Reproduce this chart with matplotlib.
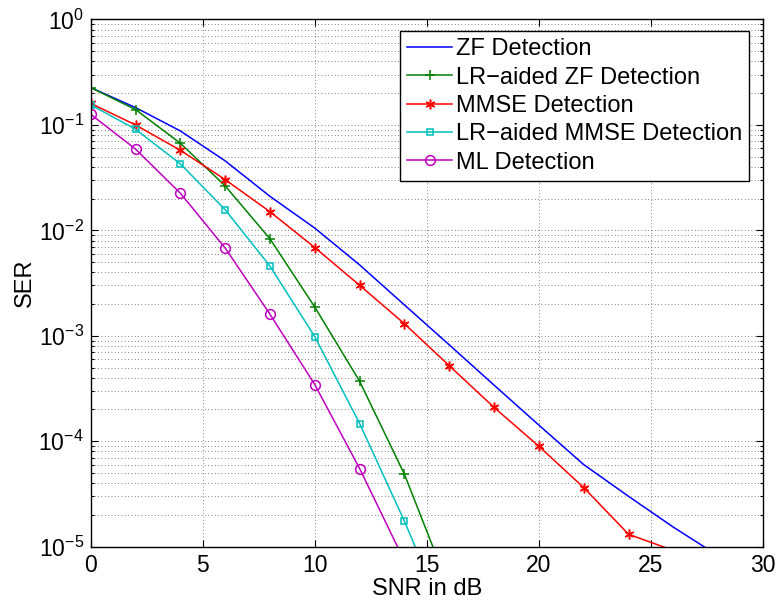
import numpy as np
import matplotlib
matplotlib.use('Agg')
import matplotlib.pyplot as plt
from matplotlib.ticker import LogLocator, NullFormatter, MultipleLocator

plt.rcParams['font.family'] = ['Liberation Sans', 'DejaVu Sans']
plt.rcParams['mathtext.fontset'] = 'custom'
plt.rcParams['mathtext.rm'] = 'Liberation Sans'
plt.rcParams['mathtext.it'] = 'Liberation Sans:italic'
plt.rcParams['mathtext.bf'] = 'Liberation Sans:bold'

# SNR points (dB) and SER values
snr_zf = [0, 2, 4, 6, 8, 10, 12, 14, 16, 18, 20, 22, 24, 26, 28]
ser_zf = [0.226, 0.146, 0.0877, 0.0456, 0.021, 0.0105, 0.0047, 0.00196,
          8.2e-4, 3.4e-4, 1.42e-4, 6.0e-5, 3.0e-5, 1.53e-5, 8.2e-6]

snr_lrzf = [0, 2, 4, 6, 8, 10, 12, 14, 16]
ser_lrzf = [0.226, 0.14, 0.067, 0.0264, 0.0083, 0.00187, 3.7e-4, 4.85e-5, 4e-6]

snr_mmse = [0, 2, 4, 6, 8, 10, 12, 14, 16, 18, 20, 22, 24, 26]
ser_mmse = [0.16, 0.10, 0.0575, 0.0303, 0.0150, 0.00687, 0.00301, 0.0013,
            5.2e-4, 2.09e-4, 8.95e-5, 3.63e-5, 1.31e-5, 9.2e-6]

snr_lrmmse = [0, 2, 4, 6, 8, 10, 12, 14, 16]
ser_lrmmse = [0.155, 0.091, 0.0427, 0.0157, 0.00457, 9.8e-4, 1.47e-4, 1.74e-5, 1.7e-6]

snr_ml = [0, 2, 4, 6, 8, 10, 12, 14]
ser_ml = [0.126, 0.059, 0.0225, 0.0068, 0.0016, 3.44e-4, 5.5e-5, 7.3e-6]

ymin, ymax = 1e-5, 1

fig = plt.figure(figsize=(7.8, 6.05), dpi=100)
ax = fig.add_axes([0.1163, 0.0964, 0.862, 0.8714])


def visible(vals):
    # only put markers on points that lie inside the y range
    return [i for i, v in enumerate(vals) if v >= ymin]


asterisk = (6, 2, 0)
ax.plot(snr_zf, ser_zf, color=(0, 0, 1), lw=1.1, label='ZF Detection')
ax.plot(snr_lrzf, ser_lrzf, color=(0, 0.5, 0), lw=1.1, marker='+', ms=7,
        mew=1.1, markevery=visible(ser_lrzf), label='LR\u2212aided ZF Detection')
ax.plot(snr_mmse, ser_mmse, color=(1, 0, 0), lw=1.1, marker=asterisk, ms=7,
        mew=1.1, markevery=visible(ser_mmse), label='MMSE Detection')
ax.plot(snr_lrmmse, ser_lrmmse, color=(0, 0.75, 0.75), lw=1.1, marker='s', ms=5,
        mfc='none', mew=1.1, markevery=visible(ser_lrmmse), label='LR\u2212aided MMSE Detection')
ax.plot(snr_ml, ser_ml, color=(0.75, 0, 0.75), lw=1.1, marker='o', ms=7,
        mfc='none', mew=1.1, markevery=visible(ser_ml), label='ML Detection')

ax.set_yscale('log')
ax.set_xlim(0, 30)
ax.set_ylim(ymin, ymax)
ax.xaxis.set_major_locator(MultipleLocator(5))
ax.yaxis.set_major_locator(LogLocator(base=10, numticks=10))
ax.yaxis.set_minor_locator(LogLocator(base=10, subs=np.arange(2, 10), numticks=20))
ax.yaxis.set_minor_formatter(NullFormatter())

grid_style = dict(color='0.35', linestyle=(0, (1, 3)), linewidth=0.6)
ax.grid(True, which='major', axis='both', **grid_style)
ax.grid(True, which='minor', axis='y', **grid_style)

ax.tick_params(which='both', direction='in', top=True, right=True,
               labelsize=16.5, width=0.8, pad=5)
ax.tick_params(which='major', length=5)
ax.tick_params(which='minor', length=2.5)
for sp in ax.spines.values():
    sp.set_linewidth(1.0)

ax.set_xlabel('SNR in dB', fontsize=17, labelpad=1)
ax.set_ylabel('SER', fontsize=17, labelpad=2)

leg = ax.legend(loc='upper right', bbox_to_anchor=(0.979, 0.978), borderaxespad=0,
                fontsize=17, fancybox=False, framealpha=1, edgecolor='black',
                handlelength=1.9, handletextpad=0.15, labelspacing=0.27, borderpad=0.3)
leg.get_frame().set_linewidth(1.0)

fig.savefig('out.png', dpi=100)
